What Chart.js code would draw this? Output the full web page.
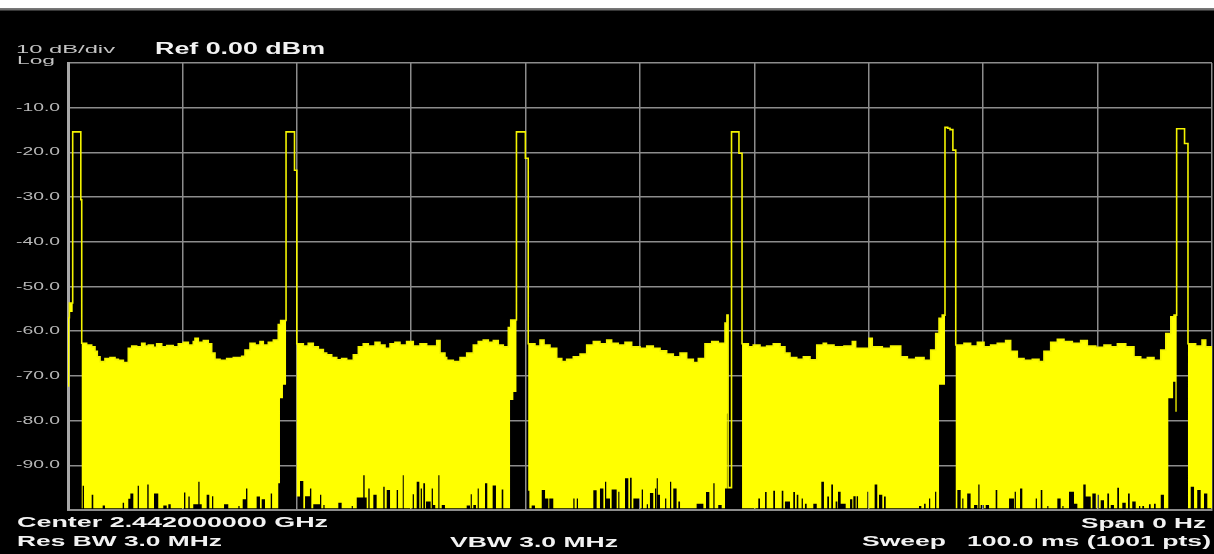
<!DOCTYPE html>
<html>
<head>
<meta charset="utf-8">
<title>Zero span sweep</title>
<script src="https://cdn.jsdelivr.net/npm/chart.js@4.4.1/dist/chart.umd.min.js"></script>
<style>
  html, body { margin: 0; padding: 0; background: #000; }
  canvas { display: block; }
</style>
</head>
<body>
<canvas id="chart" width="1214" height="554"></canvas>
<script>
// Trace: time in ms (0..100, 1001 pts), level in dBm.
// The detector fills each column between its min and max, so the trace is kept as two envelopes.
const FLOOR = -99.6;

// max envelope, stepped: each value holds until the next time
const upperTrace = [
  [0, -57.0], [0.12, -53.7], [0.41, -15.4], [1.12, -30.6], [1.2, -62.7],
  [1.63, -63.1], [2.07, -63.5], [2.36, -64.5], [2.56, -65.7], [2.8, -66.8], [3.23, -66.1], [3.67, -65.9],
  [4.11, -66.3], [4.4, -66.5], [4.84, -67.0], [5.27, -63.8], [5.57, -63.3], [6.0, -63.5], [6.44, -62.7],
  [6.73, -63.3], [7.02, -63.1], [7.46, -63.6], [7.75, -62.8], [8.19, -63.5], [8.63, -63.2], [9.2, -63.5],
  [9.64, -62.8], [10.08, -62.5], [10.52, -63.1], [10.95, -62.3], [11.1, -61.6], [11.39, -62.5], [11.83, -62.1],
  [12.26, -62.8], [12.56, -64.9], [12.85, -66.3], [13.29, -66.5], [13.87, -66.1], [14.45, -65.9], [15.18, -65.6],
  [15.47, -64.2], [15.91, -62.7], [16.35, -63.1], [16.78, -62.3], [17.07, -63.1], [17.51, -62.5], [17.95, -62.0],
  [18.38, -58.5], [18.59, -57.6],
  [19.06, -15.4], [19.8, -24.0], [20.0, -62.8],
  [20.57, -63.3], [21.0, -62.7], [21.44, -63.5], [21.88, -64.1], [22.32, -64.9], [22.61, -65.3], [23.05, -65.9],
  [23.49, -66.4], [23.92, -66.1], [24.36, -66.5], [24.94, -65.3], [25.38, -63.5], [25.81, -62.8], [26.25, -63.3],
  [26.84, -62.5], [27.27, -63.1], [27.71, -63.8], [28.15, -62.8], [28.58, -62.5], [29.02, -63.1], [29.6, -62.3],
  [30.18, -63.3], [30.77, -62.8], [31.35, -63.3], [32.23, -62.1], [32.52, -64.9], [32.95, -65.9], [33.1, -66.5],
  [33.68, -66.8], [34.27, -65.9], [34.85, -64.9], [35.43, -63.1], [35.86, -62.3], [36.3, -62.0], [36.74, -62.5],
  [37.18, -62.1], [37.61, -63.1], [38.05, -63.5], [38.49, -59.2], [38.7, -57.5],
  [39.2, -15.4], [39.98, -21.3], [40.23, -62.8],
  [40.82, -63.3], [41.26, -62.0], [41.61, -63.1], [42.13, -63.8], [42.72, -66.1], [43.16, -66.8], [43.59, -66.3],
  [44.17, -65.7], [44.76, -65.1], [45.34, -63.1], [45.92, -62.3], [46.5, -62.8], [47.09, -62.0], [47.52, -62.7],
  [48.1, -63.1], [48.69, -62.5], [49.27, -63.5], [50.0, -63.8], [50.59, -63.3], [51.16, -63.8], [51.75, -64.4],
  [52.33, -65.1], [52.91, -65.7], [53.5, -64.9], [54.08, -66.3], [54.66, -67.0], [55.1, -66.1], [55.68, -62.8],
  [56.27, -62.3], [56.84, -62.7], [57.43, -58.2], [57.6, -56.4], [57.7, -95.0],
  [58.0, -15.4], [58.65, -20.2], [58.92, -62.8],
  [59.47, -63.5], [59.9, -63.1], [60.49, -63.6], [61.07, -63.3], [61.65, -62.8], [62.24, -63.5], [62.67, -64.9],
  [63.11, -65.9], [63.7, -66.3], [64.28, -65.7], [64.86, -66.4], [65.45, -63.1], [66.02, -62.7], [66.3, -63.1],
  [66.96, -63.5], [67.83, -63.3], [68.56, -62.3], [68.85, -63.8], [70.02, -61.6], [70.3, -63.5], [71.18, -63.8],
  [71.91, -63.3], [72.79, -65.7], [73.37, -66.3], [74.1, -65.9], [74.83, -66.5], [75.41, -64.2], [75.85, -60.5],
  [76.14, -57.1], [76.42, -56.4],
  [76.66, -14.4], [76.9, -14.6], [77.1, -14.9], [77.35, -19.5], [77.6, -63.1],
  [78.32, -62.7], [78.9, -63.3], [79.49, -62.5], [80.07, -63.5], [80.65, -63.1], [81.23, -62.7], [81.96, -62.1],
  [82.4, -64.5], [82.98, -66.1], [83.57, -66.5], [84.29, -66.3], [84.88, -66.8], [85.31, -64.5], [85.9, -62.5],
  [86.48, -61.8], [87.06, -62.3], [87.79, -62.7], [88.52, -62.1], [89.1, -63.3], [89.84, -63.6], [90.56, -63.1],
  [91.15, -63.5], [91.73, -62.8], [92.46, -63.5], [93.18, -65.7], [93.77, -66.3], [94.35, -65.9], [94.93, -66.5],
  [95.52, -64.2], [95.96, -60.5], [96.4, -56.8], [96.68, -56.4],
  [96.91, -14.7], [97.6, -18.0], [97.9, -62.8],
  [98.57, -63.3], [99.13, -62.0], [99.45, -63.5], [100, -63.5]
];

// min envelope, same stepping; the short rises are the black slivers at the bottom
const lowerTrace = [
  [0, -72.4], [0.12, -55.7], [0.41, -15.4], [1.12, -30.6], [1.2, FLOOR],
  [1.28, -94.6], [1.4, FLOOR], [2.07, -96.6], [2.21, FLOOR], [3.03, -99.0], [3.23, FLOOR], [4.78, -98.4], [4.9, FLOOR],
  [5.27, -97.5], [5.45, -96.3], [5.71, FLOOR], [6.09, -94.6], [6.2, FLOOR], [6.93, -94.3], [7.05, FLOOR],
  [7.52, -96.3], [7.89, FLOOR], [8.33, -99.0], [8.63, FLOOR], [8.77, -98.7], [8.98, FLOOR], [10.14, -96.1], [10.26, FLOOR],
  [10.52, -97.0], [10.64, FLOOR], [10.95, -98.7], [11.39, -93.7], [11.5, -98.7], [11.69, FLOOR], [12.12, -96.6], [12.35, FLOOR],
  [12.59, -96.9], [12.7, FLOOR], [13.64, -98.7], [14.01, FLOOR], [14.89, -99.1], [15.0, FLOOR], [15.27, -97.6], [15.56, -95.2],
  [15.68, FLOOR], [16.49, -97.0], [16.78, FLOOR], [16.93, -97.6], [17.22, FLOOR], [17.72, -96.3], [17.84, FLOOR],
  [18.38, -94.0], [18.53, -75.0], [18.79, -72.0],
  [19.06, -15.4], [19.8, -24.0], [20.0, -97.0], [20.28, -93.5], [20.57, FLOOR], [20.72, -96.9], [21.15, -95.2], [21.27, FLOOR],
  [21.44, -98.7], [22.03, -96.6], [22.14, FLOOR], [22.32, -98.9], [22.43, FLOOR], [23.63, -98.4], [23.92, FLOOR],
  [24.8, -99.1], [24.9, FLOOR], [25.24, -97.2], [25.81, -92.2], [25.93, -97.2], [26.11, FLOOR], [26.25, -95.2], [26.37, FLOOR],
  [26.69, -96.6], [26.98, FLOOR], [27.56, -94.8], [27.68, FLOOR], [27.86, -95.5], [28.15, FLOOR], [28.73, -95.5], [28.85, FLOOR],
  [29.26, -92.2], [29.35, FLOOR], [30.13, -96.5], [30.24, FLOOR], [30.48, -93.7], [30.71, FLOOR], [30.83, -95.2], [30.94, FLOOR],
  [31.06, -94.0], [31.21, FLOOR], [31.29, -98.1], [31.7, FLOOR], [31.79, -95.2], [31.9, -98.9], [32.1, FLOOR],
  [32.37, -92.2], [32.47, FLOOR], [32.67, -98.9], [32.95, FLOOR], [34.85, -99.0], [35.14, FLOOR], [35.2, -96.5], [35.3, FLOOR],
  [35.43, -98.9], [35.66, FLOOR], [35.81, -95.2], [35.91, FLOOR], [36.45, -94.0], [36.65, FLOOR], [37.12, -94.5], [37.41, FLOOR],
  [37.91, -95.4], [38.05, FLOOR], [38.64, -75.4], [38.93, -73.6],
  [39.2, -15.4], [39.98, -21.3], [40.23, -95.7], [40.33, FLOOR], [40.53, -99.0], [40.82, FLOOR], [41.41, -95.5], [41.7, -97.4],
  [41.99, FLOOR], [42.07, -97.4], [42.42, FLOOR], [44.17, -97.4], [44.28, FLOOR], [44.47, -97.4], [44.58, FLOOR],
  [45.92, -95.6], [46.21, FLOOR], [46.5, -95.2], [46.8, FLOOR], [46.94, -93.7], [47.05, -97.4], [47.38, FLOOR],
  [47.52, -95.4], [47.96, FLOOR], [48.1, -95.9], [48.2, FLOOR], [48.69, -92.9], [48.98, FLOOR], [49.13, -92.8], [49.27, FLOOR],
  [49.42, -97.4], [50.0, FLOOR], [50.15, -95.4], [50.26, FLOOR], [50.59, -98.7], [50.7, FLOOR], [50.87, -96.2], [51.16, FLOOR],
  [51.31, -95.2], [51.42, FLOOR], [51.46, -92.9], [51.56, -96.6], [51.75, FLOOR], [52.19, -97.4], [52.3, FLOOR],
  [52.62, -93.7], [52.73, FLOOR], [52.91, -95.2], [53.2, FLOOR], [53.35, -98.1], [53.5, FLOOR], [54.95, -98.6], [55.54, FLOOR],
  [55.77, -96.0], [56.06, FLOOR], [56.41, -94.0], [56.52, FLOOR], [56.84, -98.9], [57.14, FLOOR],
  [57.43, -95.2], [57.6, -78.4], [57.7, -95.0],
  [58.0, -15.4], [58.65, -20.2], [58.92, FLOOR], [60.34, -97.4], [60.49, FLOOR], [60.93, -96.0], [61.07, FLOOR],
  [61.65, -95.7], [61.8, FLOOR], [62.39, -95.7], [62.53, FLOOR], [62.67, -98.1], [63.11, FLOOR], [63.4, -96.0], [63.55, FLOOR],
  [63.7, -96.6], [63.84, FLOOR], [64.13, -97.4], [64.24, FLOOR], [64.42, -98.6], [64.57, FLOOR], [65.15, -98.6], [65.45, FLOOR],
  [65.85, -93.7], [66.08, FLOOR], [66.37, -97.0], [66.52, FLOOR], [66.72, -94.3], [66.87, FLOOR], [67.1, -98.1], [67.25, FLOOR],
  [67.31, -95.9], [67.54, -98.6], [67.98, FLOOR], [68.36, -97.6], [68.56, FLOOR], [68.65, -96.9], [68.85, FLOOR],
  [68.94, -96.9], [69.06, FLOOR], [69.87, -95.9], [69.98, FLOOR], [70.51, -94.3], [70.74, FLOOR], [70.89, -96.6], [71.18, FLOOR],
  [71.33, -97.0], [71.48, FLOOR], [74.39, -99.1], [74.59, FLOOR], [74.83, -98.6], [74.97, FLOOR], [75.26, -97.4], [75.37, FLOOR],
  [75.79, -95.9], [75.9, FLOOR], [76.14, -72.0],
  [76.66, -14.4], [76.9, -14.6], [77.1, -14.9], [77.35, -19.5], [77.6, FLOOR], [77.74, -95.5], [78.03, FLOOR],
  [78.17, -97.4], [78.27, FLOOR], [78.6, -96.3], [78.9, FLOOR], [79.2, -98.9], [79.49, FLOOR], [79.57, -94.3], [79.68, FLOOR],
  [79.78, -98.9], [80.07, FLOOR], [80.22, -98.9], [80.51, FLOOR], [81.09, -95.5], [81.23, FLOOR], [82.26, -97.4], [82.69, FLOOR],
  [82.75, -95.9], [82.86, FLOOR], [83.22, -95.2], [83.42, FLOOR], [84.59, -97.4], [84.7, FLOOR], [85.03, -95.5], [85.17, FLOOR],
  [85.6, -99.1], [85.7, FLOOR], [86.48, -97.4], [86.77, FLOOR], [86.92, -99.1], [87.02, FLOOR], [87.5, -95.9], [87.94, -98.6],
  [88.23, FLOOR], [88.75, -94.3], [88.96, -97.0], [89.4, FLOOR], [89.54, -96.3], [89.84, FLOOR], [89.97, -96.6], [90.12, FLOOR],
  [90.27, -97.8], [90.56, FLOOR], [90.85, -96.3], [91.0, FLOOR], [91.15, -98.9], [91.43, FLOOR], [91.72, -95.0], [91.87, FLOOR],
  [92.16, -98.4], [92.46, FLOOR], [92.66, -96.3], [92.81, FLOOR], [93.03, -98.1], [93.33, FLOOR], [93.62, -99.1], [93.73, FLOOR],
  [93.91, -99.1], [94.06, FLOOR], [94.49, -98.7], [94.64, FLOOR], [94.93, -98.6], [95.08, FLOOR], [95.52, -96.6], [95.8, FLOOR],
  [96.18, -75.0], [96.6, -71.3], [96.8, -78.0],
  [96.91, -14.7], [97.6, -18.0], [97.9, FLOOR], [98.14, -94.8], [98.43, FLOOR], [98.71, -95.5], [99.01, FLOOR],
  [99.3, -96.3], [99.59, FLOOR], [100, FLOOR]
];

const yTickValues = [-10, -20, -30, -40, -50, -60, -70, -80, -90];
const scaleLabel = '10 dB/div';
const scaleMode = 'Log';
const refLabel = 'Ref 0.00 dBm';
const centerLabel = 'Center 2.442000000 GHz';
const rbwLabel = 'Res BW 3.0 MHz';
const vbwLabel = 'VBW 3.0 MHz';
const spanLabel = 'Span 0 Hz';
const sweepLabel = ['Sweep', '100.0 ms (1001 pts)'];

const toPoints = arr => arr.map(([x, y]) => ({ x, y }));

// the screen font is much wider than anything installed, so stretch each string to its width
function wideText(ctx, text, x, y, width, font, color, align = 'left', baseline = 'alphabetic') {
  ctx.save();
  ctx.font = font;
  ctx.fillStyle = color;
  ctx.textAlign = 'left';
  ctx.textBaseline = baseline;
  const natural = ctx.measureText(text).width;
  ctx.translate(align === 'right' ? x - width : x, y);
  ctx.scale(width / natural, 1);
  ctx.fillText(text, 0, 0);
  ctx.restore();
}

const screenPlugin = {
  id: 'screen',
  beforeDraw(chart) {
    const { ctx, width, height } = chart;
    ctx.save();
    ctx.fillStyle = '#000';
    ctx.fillRect(0, 0, width, height);
    ctx.fillStyle = '#fff';
    ctx.fillRect(0, 0, width, 8.5);
    ctx.fillStyle = '#6e6e6e';
    ctx.fillRect(0, 8.5, width, 2);
    ctx.restore();
  },
  afterDraw(chart) {
    const { ctx } = chart;
    const y = chart.scales.y;
    const small = '11px "Liberation Sans", Arial, sans-serif';
    const bold = 'bold 16px "Liberation Sans", Arial, sans-serif';
    const bold15 = 'bold 15.5px "Liberation Sans", Arial, sans-serif';
    const white = '#f2f2f2';

    wideText(ctx, scaleLabel, 16, 53, 99, small, '#c4c4c4');
    wideText(ctx, scaleMode, 17, 63.5, 38, small, '#c4c4c4');
    wideText(ctx, refLabel, 155, 53.5, 170, bold, white);

    yTickValues.forEach(v => {
      wideText(ctx, v.toFixed(1), 60, y.getPixelForValue(v), 44, small, '#b8b8b8', 'right', 'middle');
    });

    wideText(ctx, centerLabel, 17, 527, 311, bold15, white);
    wideText(ctx, rbwLabel, 17, 545.5, 205, bold15, white);
    wideText(ctx, vbwLabel, 450, 546.5, 168, bold15, white);
    wideText(ctx, spanLabel, 1206, 527.5, 125, bold15, white, 'right');
    wideText(ctx, sweepLabel[0], 862, 546, 84, bold15, white);
    wideText(ctx, sweepLabel[1], 1211, 546, 244, bold15, white, 'right');
  }
};

const gridStyle = { color: '#8c8c8c', lineWidth: 1.5, drawTicks: false };

const cfg = {
  type: 'line',
  data: {
    datasets: [
      {
        label: 'min',
        data: toPoints(lowerTrace),
        stepped: true,
        borderWidth: 0,
        borderColor: 'rgba(0,0,0,0)',
        pointRadius: 0,
        fill: false
      },
      {
        label: 'max',
        data: toPoints(upperTrace),
        stepped: true,
        borderColor: '#f4f400',
        borderWidth: 1.6,
        backgroundColor: '#ffff00',
        pointRadius: 0,
        fill: { target: 0 }
      }
    ]
  },
  options: {
    responsive: false,
    animation: false,
    devicePixelRatio: 1,
    layout: { padding: { left: 68, right: 2, top: 63, bottom: 44 } },
    plugins: { legend: { display: false }, tooltip: { enabled: false } },
    scales: {
      x: {
        type: 'linear', min: 0, max: 100,
        ticks: { display: false, stepSize: 10 },
        grid: gridStyle,
        border: { display: true, color: '#8c8c8c', width: 2 }
      },
      y: {
        type: 'linear', min: -100, max: 0,
        ticks: { display: false, stepSize: 10 },
        grid: gridStyle,
        border: { display: true, color: '#a8a8a8', width: 3 }
      }
    }
  },
  plugins: [screenPlugin]
};

new Chart(document.getElementById('chart').getContext('2d'), cfg);
</script>
</body>
</html>
